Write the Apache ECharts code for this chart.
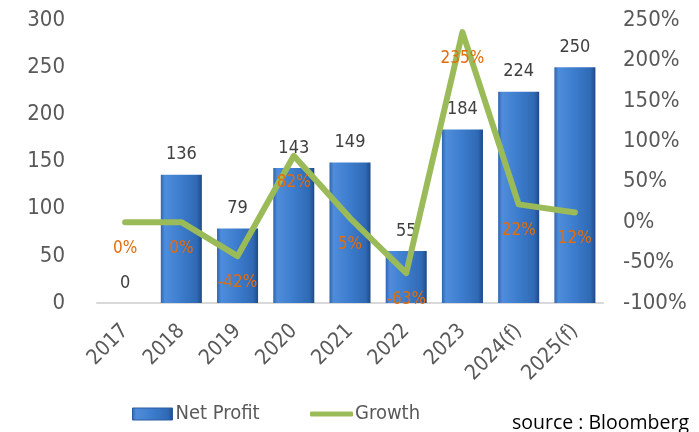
<!DOCTYPE html>
<html>
<head>
<meta charset="utf-8">
<script src="https://cdn.jsdelivr.net/npm/echarts@6/dist/echarts.min.js"></script>
<style>html,body{margin:0;padding:0;background:#fff;}#c{width:699px;height:432px;}</style>
</head>
<body>
<div id="c"></div>
<script>
const categories = ['2017','2018','2019','2020','2021','2022','2023','2024(f)','2025(f)'];
const netProfit = [0,136,79,143,149,55,184,224,250];
const growth = [0,0,-42,82,5,-63,235,22,12];

const FONT = '"DejaVu Sans Condensed", "DejaVu Sans", sans-serif';
const chart = echarts.init(document.getElementById('c'), null, {renderer:'canvas'});
const barGrad = new echarts.graphic.LinearGradient(0,0,1,0,[
  {offset:0, color:'#2f65ad'},
  {offset:0.1, color:'#4f8ddb'},
  {offset:0.5, color:'#3c7ccc'},
  {offset:0.88, color:'#2f69b4'},
  {offset:1, color:'#1f4a88'}
]);
chart.setOption({
  animation:false,
  backgroundColor:'#fff',
  textStyle:{fontFamily:FONT},
  grid:{left:97,right:96,top:20,bottom:129},
  legend:[
    {left:132, top:404, padding:0, itemWidth:40, itemHeight:12, itemGap:4,
     textStyle:{fontSize:20,color:'#595959',fontFamily:FONT,padding:[0,0,0,-2]},
     data:[{name:'Net Profit',icon:'rect',itemStyle:{borderWidth:1,borderColor:'#2a5d9f'}}]},
    {left:310, top:404, padding:0, itemWidth:43, itemHeight:5,
     textStyle:{fontSize:20,color:'#595959',fontFamily:FONT,padding:[0,0,0,-3]},
     data:[{name:'Growth',icon:'roundRect',itemStyle:{color:'#9bbb59',opacity:1,borderWidth:0}}]}
  ],
  xAxis:{
    type:'category', data:categories,
    axisLine:{lineStyle:{color:'#d9d9d9',width:2}},
    axisTick:{show:false},
    axisLabel:{rotate:45,fontSize:21,color:'#595959',margin:25,interval:0}
  },
  yAxis:[
    {type:'value',min:0,max:300,interval:50,
     splitLine:{show:false},axisLine:{show:false},axisTick:{show:false},
     axisLabel:{fontSize:22,color:'#595959',margin:32}},
    {type:'value',min:-100,max:250,interval:50,position:'right',
     splitLine:{show:false},axisLine:{show:false},axisTick:{show:false},
     axisLabel:{fontSize:22,color:'#595959',margin:20,formatter:'{value}%'}}
  ],
  series:[
    {name:'Net Profit',type:'bar',data:netProfit,barWidth:'73%',
     itemStyle:{color:barGrad,borderWidth:0},
     label:{show:true,position:'top',distance:11,fontSize:18,color:'#404040'}},
    {name:'Growth',type:'line',yAxisIndex:1,data:growth,symbol:'circle',symbolSize:2,showSymbol:true,
     itemStyle:{color:'#9bbb59',borderWidth:0},
     lineStyle:{color:'#9bbb59',width:6,cap:'round',join:'round'},
     label:{show:true,position:'bottom',distance:17,fontSize:17,color:'#e46c0a',formatter:'{c}%'},
     labelLayout:{hideOverlap:false},
     z:5}
  ],
  graphic:[
    {type:'text',left:512,top:413,style:{text:'source : Bloomberg',fontSize:19.5,fill:'#000',fontFamily:'"Open Sans", sans-serif'}}
  ]
});
</script>
</body>
</html>
